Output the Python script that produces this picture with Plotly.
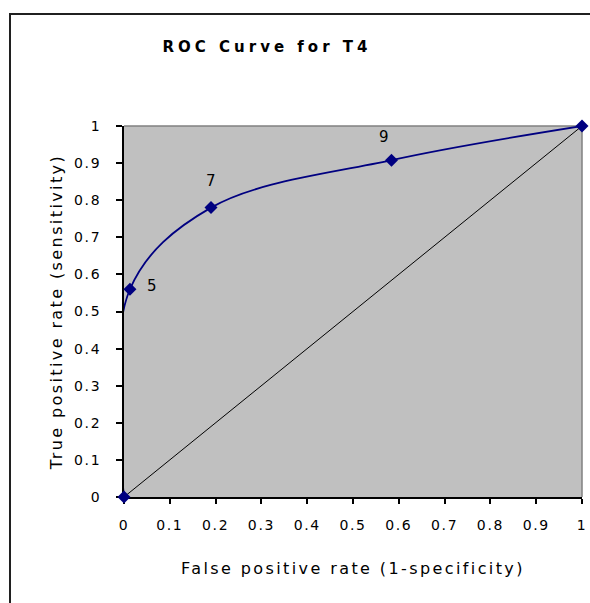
import plotly.graph_objects as go

# ROC points (false positive rate, true positive rate) with cutoff labels
fpr = [0.0, 0.013, 0.19, 0.584, 1.0]
tpr = [0.0, 0.56, 0.78, 0.908, 1.0]
point_labels = ["", "5", "7", "9", ""]
label_dx = [0, 22, 0, -7, 0]
label_dy = [0, 3, 27, 23, 0]

diag_x = [0, 1]
diag_y = [0, 1]

x_ticks = [0, 0.1, 0.2, 0.3, 0.4, 0.5, 0.6, 0.7, 0.8, 0.9, 1]
x_ticktext = ["0", "0.1", "0.2", "0.3", "0.4", "0.5", "0.6", "0.7", "0.8", "0.9", "1"]
y_ticks = [0, 0.1, 0.2, 0.3, 0.4, 0.5, 0.6, 0.7, 0.8, 0.9, 1]
y_ticktext = ["0", "0.1", "0.2", "0.3", "0.4", "0.5", "0.6", "0.7", "0.8", "0.9", "1"]

FONT = "DejaVu Sans, Liberation Sans, Arial, sans-serif"

fig = go.Figure()
fig.add_trace(go.Scatter(
    x=diag_x, y=diag_y, mode="lines",
    line=dict(color="black", width=1), hoverinfo="skip"))
fig.add_trace(go.Scatter(
    x=fpr, y=tpr, mode="lines+markers",
    line=dict(color="#000080", width=1.8, shape="spline", smoothing=1.0),
    marker=dict(symbol="diamond", size=10, color="#000080"),
    cliponaxis=False))

for xv, yv, lab, dx, dy in zip(fpr, tpr, point_labels, label_dx, label_dy):
    if lab:
        fig.add_annotation(x=xv, y=yv, text=lab, showarrow=False,
                           xshift=dx, yshift=dy,
                           font=dict(family=FONT, size=15, color="black"))

fig.update_layout(
    width=590, height=603,
    margin=dict(l=124, r=8, t=126, b=106, autoexpand=False),
    paper_bgcolor="white", plot_bgcolor="#c0c0c0",
    showlegend=False,
    title=dict(text="<b>ROC Curve for T4</b>", x=267 / 590, xanchor="center",
               y=1 - 47 / 603, yanchor="middle",
               font=dict(family=FONT, size=15, color="black")),
    font=dict(family=FONT, size=14, color="black"),
)
fig.update_xaxes(
    range=[0, 1], tickvals=x_ticks, ticktext=x_ticktext, automargin=False,
    showgrid=False, zeroline=False, showline=True, linecolor="black", linewidth=2,
    ticks="outside", ticklen=5, tickcolor="black", tickwidth=1.5,
    ticklabelstandoff=9, layer="below traces",
    title=dict(text="False positive rate (1-specificity)", standoff=31,
               font=dict(family=FONT, size=16)),
    tickfont=dict(family=FONT, size=14),
)
fig.update_yaxes(
    range=[0, 1], tickvals=y_ticks, ticktext=y_ticktext, automargin=False,
    showgrid=False, zeroline=False, showline=True, linecolor="black", linewidth=2,
    ticks="outside", ticklen=6, tickcolor="black", tickwidth=1.5,
    ticklabelstandoff=12, layer="below traces",
    title=dict(text="True positive rate (sensitivity)", standoff=12,
               font=dict(family=FONT, size=16)),
    tickfont=dict(family=FONT, size=14),
)
# gray plot-area border on top and right
fig.add_shape(type="line", xref="paper", yref="paper", x0=0, x1=1, y0=1, y1=1,
              line=dict(color="#808080", width=1.5), layer="below")
fig.add_shape(type="line", xref="paper", yref="paper", x0=1, x1=1, y0=0, y1=1,
              line=dict(color="#808080", width=1.5), layer="below")
# chart outer border
fig.add_shape(type="rect", xref="paper", yref="paper",
              x0=(10 - 124) / 458, x1=(600 - 124) / 458,
              y0=(497 - 610) / 371, y1=(497 - 14) / 371,
              line=dict(color="#202020", width=2), fillcolor="rgba(0,0,0,0)")

post = """
document.body.style.margin = '0';
var gd = document.getElementById('{plot_id}');
function spacing(){
  gd.querySelectorAll('.gtitle').forEach(function(e){e.style.letterSpacing='4px';});
  gd.querySelectorAll('.xtitle, .ytitle').forEach(function(e){e.style.letterSpacing='2.4px';});
  gd.querySelectorAll('.xtick text, .ytick text').forEach(function(e){e.style.letterSpacing='1.6px';});
}
spacing();
gd.on('plotly_afterplot', spacing);
"""

fig.write_html("out.html", post_script=post, config={"displayModeBar": False})
